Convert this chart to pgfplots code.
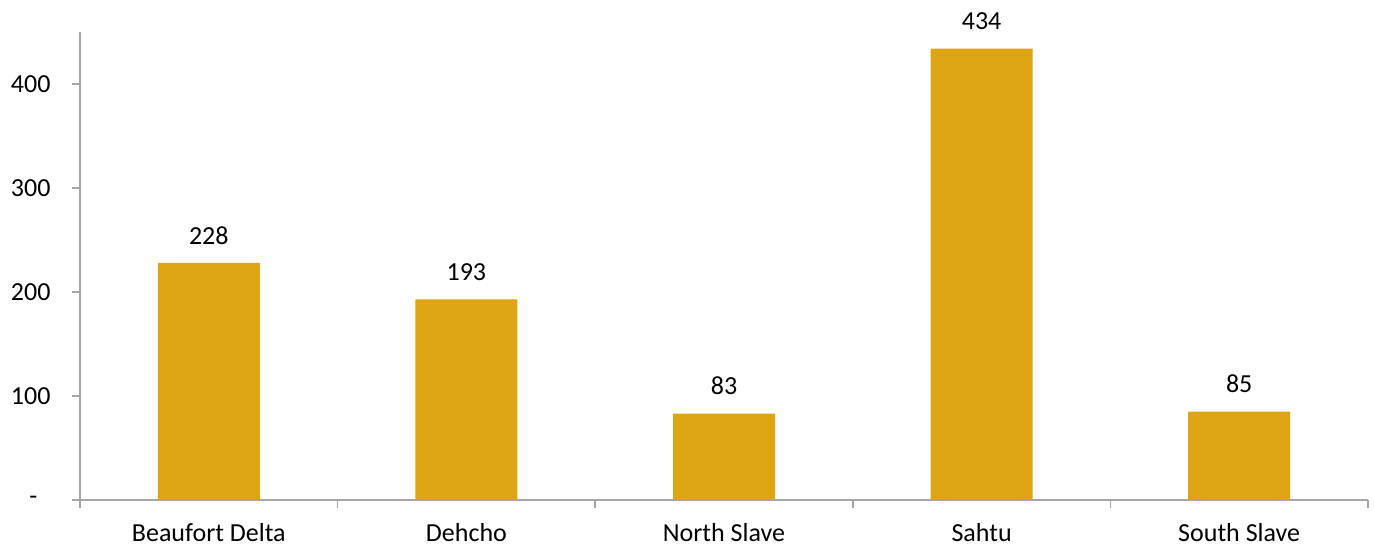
\documentclass[border=0pt]{standalone}
\usepackage{pgfplots}
\pgfplotsset{compat=1.18}
\usepackage{fontspec}
\setmainfont{Carlito}
\definecolor{barcol}{HTML}{DDA512}
\definecolor{axcol}{HTML}{A6A6A6}
\begin{document}
\begin{tikzpicture}
\useasboundingbox (-80pt,-48pt) rectangle (1294pt,500pt);
\begin{axis}[
  at={(0,0)}, anchor=south west,
  scale only axis,
  width=1288pt, height=468pt,
  xmin=-0.5, xmax=4.5,
  ymin=0, ymax=450,
  axis x line=bottom, axis y line=left,
  axis line style={draw=axcol, line width=1.5pt, -},
  xtick={0,1,2,3,4},
  xticklabels={Beaufort Delta,Dehcho,North Slave,Sahtu,South Slave},
  minor xtick={-0.5,0.5,1.5,2.5,3.5,4.5},
  ytick={0,100,200,300,400},
  yticklabels={{\raisebox{-8pt}{-}\hphantom{0}},100,200,300,400},
  tick align=outside,
  major tick length=8pt,
  minor tick length=8pt,
  every tick/.style={draw=axcol, line width=1.5pt},
  major x tick style={draw=none},
  tick label style={font=\fontsize{26}{31}\selectfont, text=black},
  /pgf/number format/assume math mode=true,
  xticklabel style={inner sep=0pt, text depth=0pt, yshift=-15pt},
  yticklabel style={xshift=-18pt},
  ybar, bar width=102pt,
  nodes near coords,
  every node near coord/.append style={font=\fontsize{26}{31}\selectfont, text=black, yshift=15pt},
  point meta=y,
]
\addplot[fill=barcol, draw=none] coordinates {(0,228) (1,193) (2,83) (3,434) (4,85)};
\end{axis}
\end{tikzpicture}
\end{document}
